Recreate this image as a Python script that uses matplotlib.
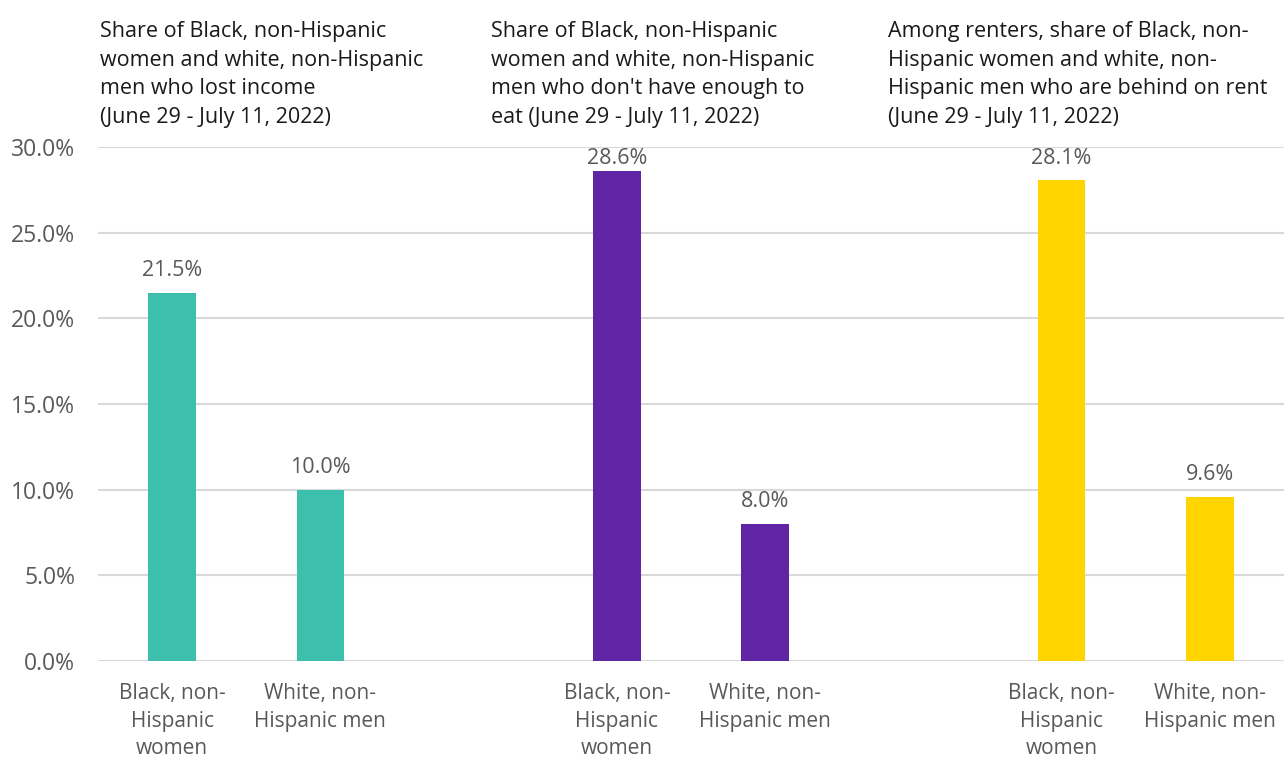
import matplotlib
matplotlib.use("Agg")
import matplotlib.pyplot as plt
from matplotlib.ticker import FuncFormatter

plt.rcParams['font.family'] = ['Open Sans', 'DejaVu Sans']

# Data
group_titles = [
    "Share of Black, non-Hispanic\nwomen and white, non-Hispanic\nmen who lost income\n(June 29 - July 11, 2022)",
    "Share of Black, non-Hispanic\nwomen and white, non-Hispanic\nmen who don't have enough to\neat (June 29 - July 11, 2022)",
    "Among renters, share of Black, non-\nHispanic women and white, non-\nHispanic men who are behind on rent\n(June 29 - July 11, 2022)",
]
categories = ["Black, non-\nHispanic\nwomen", "White, non-\nHispanic men"]
values = [
    [21.5, 10.0],   # lost income
    [28.6, 8.0],    # not enough to eat
    [28.1, 9.6],    # behind on rent
]
colors = ["#3DBFAE", "#6025A5", "#FFD400"]
yticks = [0, 5, 10, 15, 20, 25, 30]

fig = plt.figure(figsize=(12.84, 7.6), dpi=100)
ax = fig.add_axes([98/1284, (760-661)/760, 1 - 98/1284, (661-147)/760])

grey = "#595959"
ymax = 30
positions = []
labels = []
for g, (vals, col) in enumerate(zip(values, colors)):
    for i, v in enumerate(vals):
        x = g * 3 + i
        positions.append(x)
        labels.append(categories[i])
        ax.bar(x, v, width=0.32, color=col, zorder=3)
        ly = min(v + 1.3, ymax - 0.7)
        ax.text(x, ly, f"{v:.1f}%", ha="center", va="center",
                fontsize=15.5, color=grey, zorder=4)

ax.set_xlim(-0.5, 7.5)
ax.set_ylim(0, ymax)
ax.set_yticks(yticks)
ax.yaxis.set_major_formatter(FuncFormatter(lambda v, p: f"{v:.1f}%"))
ax.set_xticks(positions)
ax.set_xticklabels(labels, fontsize=15, color=grey, linespacing=1.4)
ax.tick_params(axis='y', labelsize=16.5, labelcolor=grey, length=0, pad=16.5)
ax.tick_params(axis='x', length=0, pad=16)
ax.grid(axis='y', color="#D9D9D9", linewidth=1.5, zorder=0)
for s in ax.spines.values():
    s.set_visible(False)

title_x = [100, 491, 888]
for tx, t in zip(title_x, group_titles):
    fig.text(tx/1284, 1 - 21/760, t, ha="left", va="top", fontsize=15.5,
             color="#1a1a1a", linespacing=1.47)

fig.savefig("out.png", dpi=100)
